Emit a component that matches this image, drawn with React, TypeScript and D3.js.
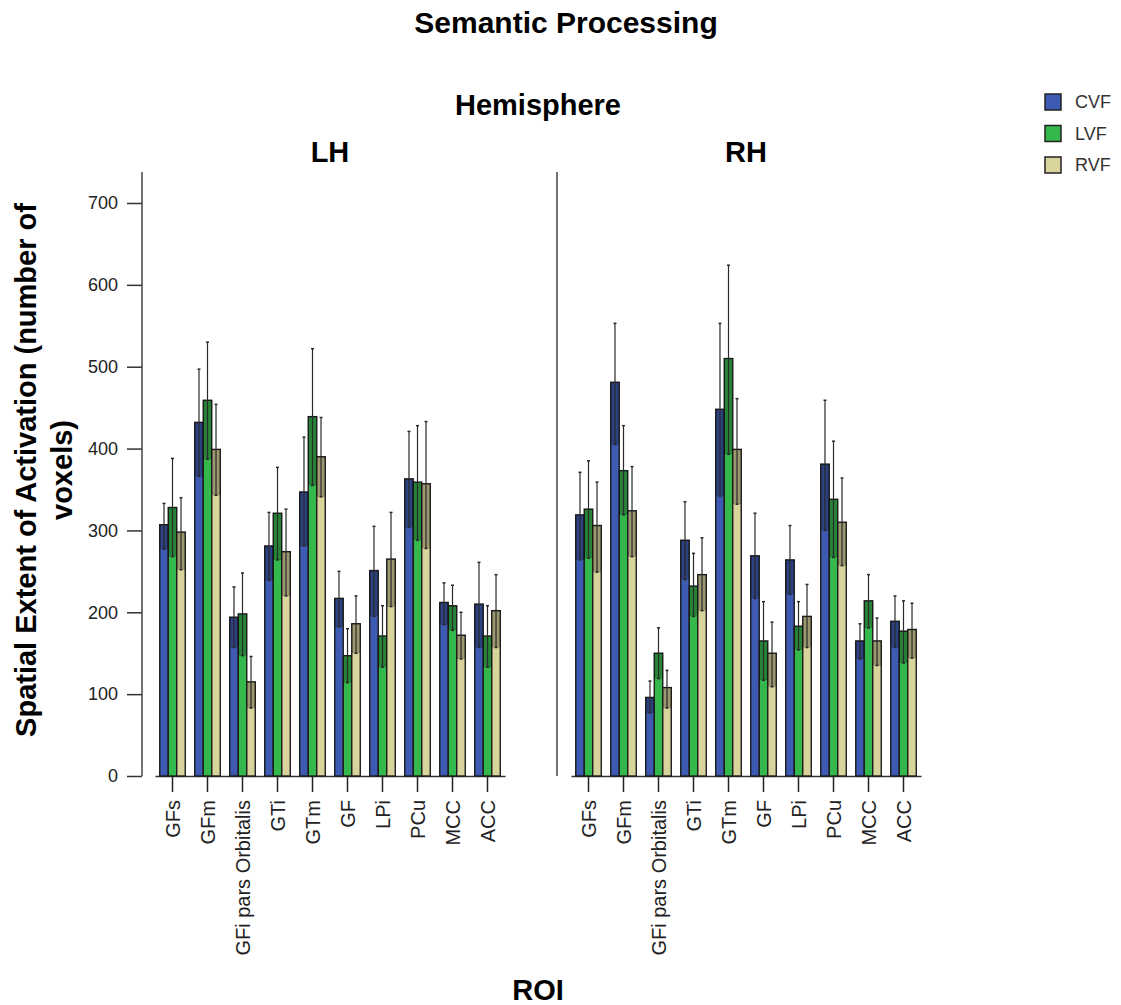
import React, { useRef, useEffect } from "react";
import * as d3 from "d3";

const rois = ["GFs", "GFm", "GFi pars Orbitalis", "GTi", "GTm", "GF", "LPi", "PCu", "MCC", "ACC"];
const hemispheres = ["LH", "RH"];
const fields = ["CVF", "LVF", "RVF"];
const yTicks = [0, 100, 200, 300, 400, 500, 600, 700];

// LH means and error bar ends
const lhCvf = [307, 432, 194, 281, 347, 217, 251, 363, 212, 210];
const lhCvfLo = [277, 366, 157, 239, 281, 182, 195, 304, 185, 157];
const lhCvfHi = [333, 497, 231, 322, 414, 250, 305, 421, 236, 261];
const lhLvf = [328, 459, 198, 321, 439, 147, 171, 359, 208, 171];
const lhLvfLo = [268, 387, 147, 264, 355, 114, 133, 288, 178, 133];
const lhLvfHi = [388, 530, 248, 377, 522, 180, 208, 428, 233, 208];
const lhRvf = [298, 399, 115, 274, 390, 186, 265, 357, 172, 202];
const lhRvfLo = [252, 343, 83, 220, 341, 150, 207, 278, 143, 157];
const lhRvfHi = [340, 454, 146, 326, 438, 220, 322, 433, 200, 246];

// RH means and error bar ends
const rhCvf = [319, 481, 96, 288, 448, 269, 264, 381, 165, 189];
const rhCvfLo = [264, 405, 77, 240, 342, 217, 222, 300, 143, 157];
const rhCvfHi = [371, 553, 116, 335, 553, 321, 306, 459, 186, 220];
const rhLvf = [326, 373, 150, 232, 510, 165, 183, 338, 214, 177];
const rhLvfLo = [266, 319, 119, 195, 393, 117, 154, 267, 181, 138];
const rhLvfHi = [385, 428, 181, 272, 624, 213, 213, 409, 246, 214];
const rhRvf = [306, 324, 108, 246, 399, 150, 195, 310, 165, 179];
const rhRvfLo = [249, 268, 83, 202, 332, 109, 157, 257, 135, 144];
const rhRvfHi = [359, 378, 129, 291, 461, 188, 234, 364, 193, 211];

const series = {
  LH: [
    [lhCvf, lhCvfLo, lhCvfHi],
    [lhLvf, lhLvfLo, lhLvfHi],
    [lhRvf, lhRvfLo, lhRvfHi],
  ],
  RH: [
    [rhCvf, rhCvfLo, rhCvfHi],
    [rhLvf, rhLvfLo, rhLvfHi],
    [rhRvf, rhRvfLo, rhRvfHi],
  ],
};

const colors = ["#3d5bb3", "#35b84b", "#d8d49c"];
const FONT = "'Liberation Sans', Arial, sans-serif";

const App = () => {
  const svgRef = useRef(null);

  useEffect(() => {
    document.body.style.margin = "0";
    const width = 1121;
    const height = 1005;
    const svg = d3.select(svgRef.current);
    svg.selectAll("*").remove();
    svg.attr("width", width).attr("height", height).style("font-family", FONT);

    const y = d3.scaleLinear().domain([0, 700]).range([776, 203]);
    const axisX = 142;
    const axisTop = 172;

    // Title
    svg.append("text").attr("x", 566).attr("y", 33).attr("text-anchor", "middle")
      .style("font-size", "30px").style("font-weight", "bold").text("Semantic Processing");
    svg.append("text").attr("x", 538).attr("y", 115).attr("text-anchor", "middle")
      .style("font-size", "29px").style("font-weight", "bold").text("Hemisphere");
    svg.append("text").attr("x", 538).attr("y", 1000).attr("text-anchor", "middle")
      .style("font-size", "29px").style("font-weight", "bold").text("ROI");

    // Y axis label (two lines)
    const yl = svg.append("g").attr("transform", "translate(0,470) rotate(-90)");
    yl.append("text").attr("x", 0).attr("y", 36).attr("text-anchor", "middle")
      .style("font-size", "29px").style("font-weight", "bold")
      .text("Spatial Extent of Activation (number of");
    yl.append("text").attr("x", 0).attr("y", 72).attr("text-anchor", "middle")
      .style("font-size", "29px").style("font-weight", "bold").text("voxels)");

    // Y axis
    const ya = svg.append("g").attr("transform", `translate(${axisX},0)`)
      .call(d3.axisLeft(y).tickValues(yTicks).tickSize(15).tickPadding(9));
    ya.select(".domain").remove();
    ya.selectAll("text").style("font-size", "18px").style("font-family", FONT).attr("fill", "#222");
    ya.selectAll("line").attr("stroke", "#333").attr("stroke-width", 1.5);
    svg.append("line").attr("x1", axisX).attr("x2", axisX).attr("y1", axisTop).attr("y2", y(0))
      .attr("stroke", "#444").attr("stroke-width", 1.5);

    // Panel separator
    svg.append("line").attr("x1", 557).attr("x2", 557).attr("y1", axisTop).attr("y2", y(0))
      .attr("stroke", "#444").attr("stroke-width", 1.5);

    const panelRanges = { LH: [155, 505], RH: [571, 921] };

    hemispheres.forEach((h) => {
      const x = d3.scaleBand().domain(rois).range(panelRanges[h]).paddingInner(0.27).paddingOuter(0.135);
      const xs = d3.scaleBand().domain(fields).range([0, x.bandwidth()]);
      const g = svg.append("g");
      const [r0, r1] = panelRanges[h];

      g.append("text").attr("x", (r0 + r1) / 2).attr("y", 162).attr("text-anchor", "middle")
        .style("font-size", "29px").style("font-weight", "bold").text(h);

      // Bottom axis
      const xa = g.append("g").attr("transform", `translate(0,${y(0)})`)
        .call(d3.axisBottom(x).tickSize(16).tickPadding(8).tickSizeOuter(0));
      xa.select(".domain").attr("stroke", "#333").attr("stroke-width", 1.5);
      xa.selectAll("line").attr("stroke", "#222").attr("stroke-width", 1.5);
      xa.selectAll("text")
        .attr("transform", "rotate(-90)")
        .attr("text-anchor", "end")
        .attr("x", -24)
        .attr("y", 0)
        .attr("dy", "0.35em")
        .attr("fill", "#222")
        .style("font-size", "20px")
        .style("font-family", FONT);

      const rows = [];
      rois.forEach((roi, i) => {
        fields.forEach((f, j) => {
          const [m, lo, hi] = series[h][j];
          rows.push({ roi, f, j, mean: m[i], lo: lo[i], hi: hi[i] });
        });
      });

      const bars = g.append("g");
      bars.selectAll("rect.bar").data(rows).enter().append("rect")
        .attr("class", "bar")
        .attr("x", (d) => x(d.roi) + xs(d.f))
        .attr("width", xs.bandwidth())
        .attr("y", (d) => y(d.mean))
        .attr("height", (d) => y(0) - y(d.mean))
        .attr("fill", (d) => colors[d.j])
        .attr("stroke", "#1c1c1c")
        .attr("stroke-width", 1.4);

      // darker region between lower error and mean
      bars.selectAll("rect.shade").data(rows).enter().append("rect")
        .attr("class", "shade")
        .attr("x", (d) => x(d.roi) + xs(d.f))
        .attr("width", xs.bandwidth())
        .attr("y", (d) => y(d.mean))
        .attr("height", (d) => y(d.lo) - y(d.mean))
        .attr("fill", "#000")
        .attr("opacity", 0.28);

      // error bars
      const cx = (d) => x(d.roi) + xs(d.f) + xs.bandwidth() / 2;
      bars.selectAll("line.err").data(rows).enter().append("line")
        .attr("class", "err")
        .attr("x1", cx).attr("x2", cx)
        .attr("y1", (d) => y(d.lo)).attr("y2", (d) => y(d.hi))
        .attr("stroke", "#2a2a2a").attr("stroke-width", 1.2);
      ["lo", "hi"].forEach((k) => {
        bars.selectAll(`line.cap-${k}`).data(rows).enter().append("line")
          .attr("class", `cap-${k}`)
          .attr("x1", (d) => cx(d) - 1.5).attr("x2", (d) => cx(d) + 1.5)
          .attr("y1", (d) => y(d[k])).attr("y2", (d) => y(d[k]))
          .attr("stroke", "#2a2a2a").attr("stroke-width", 1.5);
      });
    });

    // Legend
    const lg = svg.append("g").attr("transform", "translate(1045,94)");
    fields.forEach((f, i) => {
      const row = lg.append("g").attr("transform", `translate(0,${i * 31.5})`);
      row.append("rect").attr("width", 16).attr("height", 16)
        .attr("fill", colors[i]).attr("stroke", "#222").attr("stroke-width", 1.5);
      row.append("text").attr("x", 30).attr("y", 8).attr("dy", "0.35em")
        .style("font-size", "18px").attr("fill", "#333").text(f);
    });
  }, []);

  return <svg ref={svgRef}></svg>;
};

export default App;
